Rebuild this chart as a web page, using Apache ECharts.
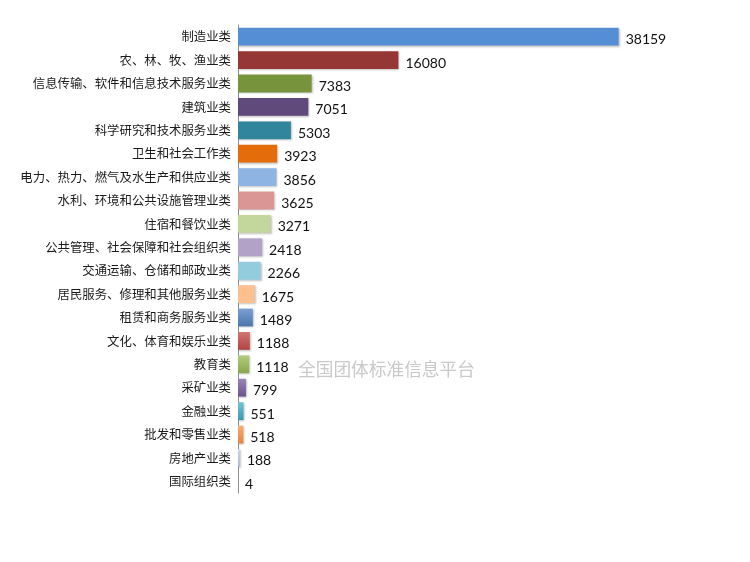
<!DOCTYPE html>
<html>
<head>
<meta charset="utf-8">
<script src="https://cdn.jsdelivr.net/npm/echarts@6/dist/echarts.min.js"></script>
<style>
html,body{margin:0;padding:0;background:#fff;}
#main{width:750px;height:562px;}
</style>
</head>
<body>
<div id="main"></div>
<script>
var categories = ['制造业类','农、林、牧、渔业类','信息传输、软件和信息技术服务业类','建筑业类','科学研究和技术服务业类',
	'卫生和社会工作类','电力、热力、燃气及水生产和供应业类','水利、环境和公共设施管理业类','住宿和餐饮业类','公共管理、社会保障和社会组织类',
	'交通运输、仓储和邮政业类','居民服务、修理和其他服务业类','租赁和商务服务业类','文化、体育和娱乐业类','教育类',
	'采矿业类','金融业类','批发和零售业类','房地产业类','国际组织类'];
var counts = [38159,16080,7383,7051,5303,3923,3856,3625,3271,2418,2266,1675,1489,1188,1118,799,551,518,188,4];

// 每根柱子一个颜色，后面几根带渐变
var flatColors = ['#558ED5','#953735','#77933C','#604A7B','#31859C','#E46C0A','#8EB4E3','#D99694','#C3D69B','#B3A2C7','#93CDDD','#FAC090'];
var gradColors = [['#7C9FD0','#4A76AE'],['#D27573','#B04542'],['#B1CC7D','#88A84B'],['#9B84B8','#6E5290'],['#73C2D7','#3C98B1'],['#F9AE72','#E6843A'],['#C9D6E8','#A8B8D2'],['#999','#999']];

function barColor(i) {
	if (i < flatColors.length) return flatColors[i];
	var g = gradColors[i - flatColors.length];
	return new echarts.graphic.LinearGradient(0, 0, 0, 1, [
		{offset: 0, color: g[0]}, {offset: 1, color: g[1]}
	]);
}

var chart = echarts.init(document.getElementById('main'));
chart.setOption({
	animation: false,
	backgroundColor: '#fff',
	grid: {left: 238, right: 113, top: 25, bottom: 69, containLabel: false},
	xAxis: {
		type: 'value',
		min: 0,
		max: 40000,
		show: false
	},
	yAxis: {
		type: 'category',
		inverse: true,
		data: categories,
		axisLine: {show: true, lineStyle: {color: '#8c8c8c', width: 1}},
		axisTick: {show: false},
		axisLabel: {
			color: '#1a1a1a',
			fontSize: 12.4,
			fontFamily: 'Noto Sans CJK SC',
			margin: 7
		}
	},
	graphic: [{
		type: 'text',
		left: 298,
		top: 360,
		style: {
			text: '全国团体标准信息平台',
			fill: '#c9c9c9',
			fontSize: 17.7,
			fontFamily: 'Noto Sans CJK SC'
		}
	}],
	series: [{
		type: 'bar',
		barWidth: '76%',
		data: counts.map(function (v, i) {
			return {value: v, itemStyle: {color: barColor(i)}};
		}),
		itemStyle: {
			shadowColor: 'rgba(0,0,0,0.25)',
			shadowBlur: 2,
			shadowOffsetX: 1,
			shadowOffsetY: 1
		},
		label: {
			show: true,
			position: 'right',
			distance: 7,
			offset: [0, 3],
			color: '#111',
			fontSize: 14,
			fontFamily: 'Lato'
		}
	}]
});
</script>
</body>
</html>
